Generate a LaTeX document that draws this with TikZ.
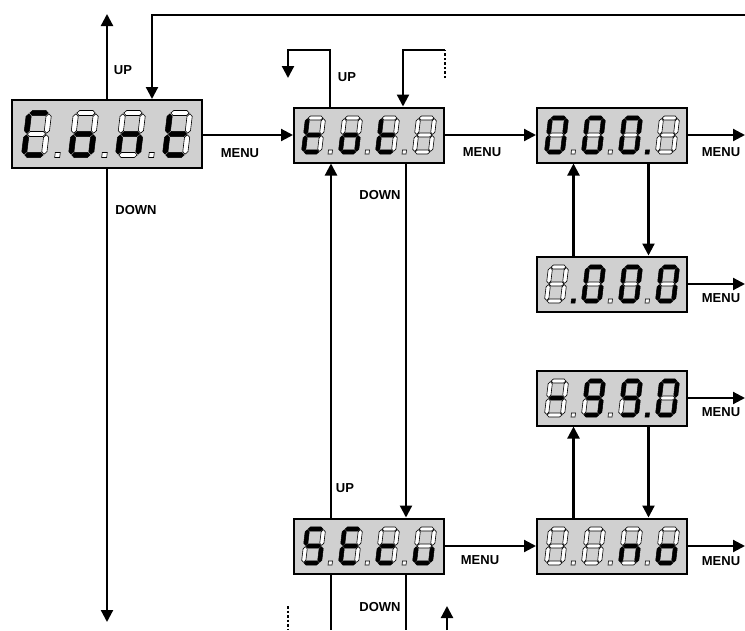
\documentclass[tikz,border=0pt]{standalone}
\usepackage{fontspec}
\setmainfont{Liberation Sans}
\usetikzlibrary{arrows.meta}

\definecolor{lcdgray}{HTML}{D0D0D0}

% segment outlines of one digit, centred, in the order a b c d e f g dp
\def\segi{(-0.46,1) -- (-0.33,1.12) -- (0.33,1.12) -- (0.46,1) -- (0.33,0.88) -- (-0.33,0.88) -- cycle}
\def\segii{(0.5,0.04) -- (0.63,0.16) -- (0.63,0.84) -- (0.5,0.96) -- (0.37,0.84) -- (0.37,0.16) -- cycle}
\def\segiii{(0.5,-0.96) -- (0.63,-0.84) -- (0.63,-0.16) -- (0.5,-0.04) -- (0.37,-0.16) -- (0.37,-0.84) -- cycle}
\def\segiv{(-0.46,-1) -- (-0.33,-0.88) -- (0.33,-0.88) -- (0.46,-1) -- (0.33,-1.12) -- (-0.33,-1.12) -- cycle}
\def\segv{(-0.5,-0.96) -- (-0.37,-0.84) -- (-0.37,-0.16) -- (-0.5,-0.04) -- (-0.63,-0.16) -- (-0.63,-0.84) -- cycle}
\def\segvi{(-0.5,0.04) -- (-0.37,0.16) -- (-0.37,0.84) -- (-0.5,0.96) -- (-0.63,0.84) -- (-0.63,0.16) -- cycle}
\def\segvii{(-0.46,0) -- (-0.33,0.12) -- (0.33,0.12) -- (0.46,0) -- (0.33,-0.12) -- (-0.33,-0.12) -- cycle}
\def\segviii{(1.05,-1.12) rectangle (1.3,-0.88)}

% one digit: [size]{display}{x offset}{flags a..g,dp}
\newcommand{\lcddigit}[4][x=16pt,y=17pt]{%
  \begin{scope}[shift={(#2.center)}, xshift=#3pt, #1, xslant=0.12]
    \foreach \on [count=\k] in {#4} {
      \ifnum\on=1 \def\segsty{segon}\else\def\segsty{segoff}\fi
      \expandafter\let\expandafter\segpath\csname seg\romannumeral\k\endcsname
      \path[\segsty] \segpath;
    }
  \end{scope}}

\tikzset{
  lcd/.style={draw, line width=2pt, fill=lcdgray, minimum width=150pt,
    minimum height=55pt, inner sep=0pt},
  segon/.style={fill=black, draw=black, line width=0.5pt},
  segoff/.style={fill=white, draw=black, line width=0.6pt},
  wire/.style={line width=2.2pt},
  lbl/.style={font=\bfseries\fontsize{13}{15}\selectfont, inner sep=0pt},
}

\begin{document}
\begin{tikzpicture}[x=1pt, y=-1pt, >={Triangle[length=12pt,width=12pt]}]

  \useasboundingbox (0,0) rectangle (745,630);

  % displays
  \node[lcd, minimum width=190pt, minimum height=68pt] (cont) at (107,134) {};
  \node[lcd] (tot)  at (369,135) {};
  \node[lcd] (hund) at (612,135) {};
  \node[lcd] (thou) at (612,284) {};
  \node[lcd] (neg)  at (612,398) {};
  \node[lcd] (nono) at (612,546) {};
  \node[lcd] (serv) at (369,546) {};

  % digits
  \lcddigit[x=20pt,y=21pt]{cont}{-70.5}{1,0,0,1,1,1,0,0}
  \lcddigit[x=20pt,y=21pt]{cont}{-23.5}{0,0,1,1,1,0,1,0}
  \lcddigit[x=20pt,y=21pt]{cont}{23.5}{0,0,1,0,1,0,1,0}
  \lcddigit[x=20pt,y=21pt]{cont}{70.5}{0,0,0,1,1,1,1}

  \lcddigit{tot}{-55.5}{0,0,0,1,1,1,1,0}
  \lcddigit{tot}{-18.5}{0,0,1,1,1,0,1,0}
  \lcddigit{tot}{18.5}{0,0,0,1,1,1,1,0}
  \lcddigit{tot}{55.5}{0,0,0,0,0,0,0}

  \lcddigit{hund}{-55.5}{1,1,1,1,1,1,0,0}
  \lcddigit{hund}{-18.5}{1,1,1,1,1,1,0,0}
  \lcddigit{hund}{18.5}{1,1,1,1,1,1,0,1}
  \lcddigit{hund}{55.5}{0,0,0,0,0,0,0}

  \lcddigit{thou}{-55.5}{0,0,0,0,0,0,0,1}
  \lcddigit{thou}{-18.5}{1,1,1,1,1,1,0,0}
  \lcddigit{thou}{18.5}{1,1,1,1,1,1,0,0}
  \lcddigit{thou}{55.5}{1,1,1,1,1,1,0}

  \lcddigit{neg}{-55.5}{0,0,0,0,0,0,1,0}
  \lcddigit{neg}{-18.5}{1,1,1,1,0,1,1,0}
  \lcddigit{neg}{18.5}{1,1,1,1,0,1,1,1}
  \lcddigit{neg}{55.5}{1,1,1,1,1,1,0}

  \lcddigit{nono}{-55.5}{0,0,0,0,0,0,0,0}
  \lcddigit{nono}{-18.5}{0,0,0,0,0,0,0,0}
  \lcddigit{nono}{18.5}{0,0,1,0,1,0,1,0}
  \lcddigit{nono}{55.5}{0,0,1,1,1,0,1}

  \lcddigit{serv}{-55.5}{1,0,1,1,0,1,1,0}
  \lcddigit{serv}{-18.5}{1,0,0,1,1,1,1,0}
  \lcddigit{serv}{18.5}{0,0,0,1,1,0,1,0}
  \lcddigit{serv}{55.5}{0,0,1,1,1,0,0}

  % free ends
  \coordinate (upend)    at (107,14);
  \coordinate (downend)  at (107,622);
  \coordinate (wirein)   at (745,15);
  \coordinate (backbend) at (288,50);
  \coordinate (backend)  at (288,78);
  \coordinate (fromdash) at (445,50);
  \coordinate (dashend)  at (445,78);
  \coordinate (rightedge) at (745,0);
  \coordinate (bottom)   at (0,630);
  \coordinate (dashlow)  at (288,606);
  \coordinate (uplow)    at (447,606);

  % first display
  \draw[wire,->] (cont.north) -- (upend);
  \draw[wire,->] (cont.south) -- (downend);
  \draw[wire,->] (wirein) -| ([xshift=45pt]cont.north);
  \draw[wire,->] (cont.east |- tot) -- (tot);

  % around tot
  \draw[wire,->] ([xshift=-39pt]tot.north) |- (backbend) -- (backend);
  \draw[wire, dash pattern=on 2.5pt off 2pt] (dashend) -- (fromdash);
  \draw[wire,->] (fromdash) -| ([xshift=34pt]tot.north);
  \draw[wire,->] (tot) -- (hund);
  \draw[wire,->] ([xshift=-38pt]serv.north) -- ([xshift=-38pt]tot.south);
  \draw[wire,->] ([xshift=37pt]tot.south) -- ([xshift=37pt]serv.north);

  % below serv
  \draw[wire] ([xshift=-38pt]serv.south) -- ([xshift=-38pt]serv.south |- bottom);
  \draw[wire] ([xshift=37pt]serv.south) -- ([xshift=37pt]serv.south |- bottom);
  \draw[wire, dash pattern=on 2.5pt off 2pt] (dashlow) -- (dashlow |- bottom);
  \draw[wire,->] (uplow |- bottom) -- (uplow);
  \draw[wire,->] (serv) -- (nono);

  % right column
  \draw[wire,->] ([xshift=-38.5pt]thou.north) -- ([xshift=-38.5pt]hund.south);
  \draw[wire,->] ([xshift=36.5pt]hund.south) -- ([xshift=36.5pt]thou.north);
  \draw[wire,->] ([xshift=-38.5pt]nono.north) -- ([xshift=-38.5pt]neg.south);
  \draw[wire,->] ([xshift=36.5pt]neg.south) -- ([xshift=36.5pt]nono.north);
  \draw[wire,->] (hund.east) -- (hund.east -| rightedge);
  \draw[wire,->] (thou.east) -- (thou.east -| rightedge);
  \draw[wire,->] (neg.east) -- (neg.east -| rightedge);
  \draw[wire,->] (nono.east) -- (nono.east -| rightedge);

  % labels
  \node[lbl] (up1)   at (123,70)  {UP};
  \node[lbl] (down1) at (136,210) {DOWN};
  \node[lbl] (menu1) at (240,153) {MENU};
  \node[lbl] (up2)   at (347,77)  {UP};
  \node[lbl] (down2) at (380,195) {DOWN};
  \node[lbl] (menu2) at (482,152) {MENU};
  \node[lbl] (menu3) at (721,152) {MENU};
  \node[lbl] (menu4) at (721,298) {MENU};
  \node[lbl] (menu5) at (721,412) {MENU};
  \node[lbl] (menu6) at (721,561) {MENU};
  \node[lbl] (up3)   at (345,488) {UP};
  \node[lbl] (menu7) at (480,560) {MENU};
  \node[lbl] (down3) at (380,607) {DOWN};

\end{tikzpicture}
\end{document}
